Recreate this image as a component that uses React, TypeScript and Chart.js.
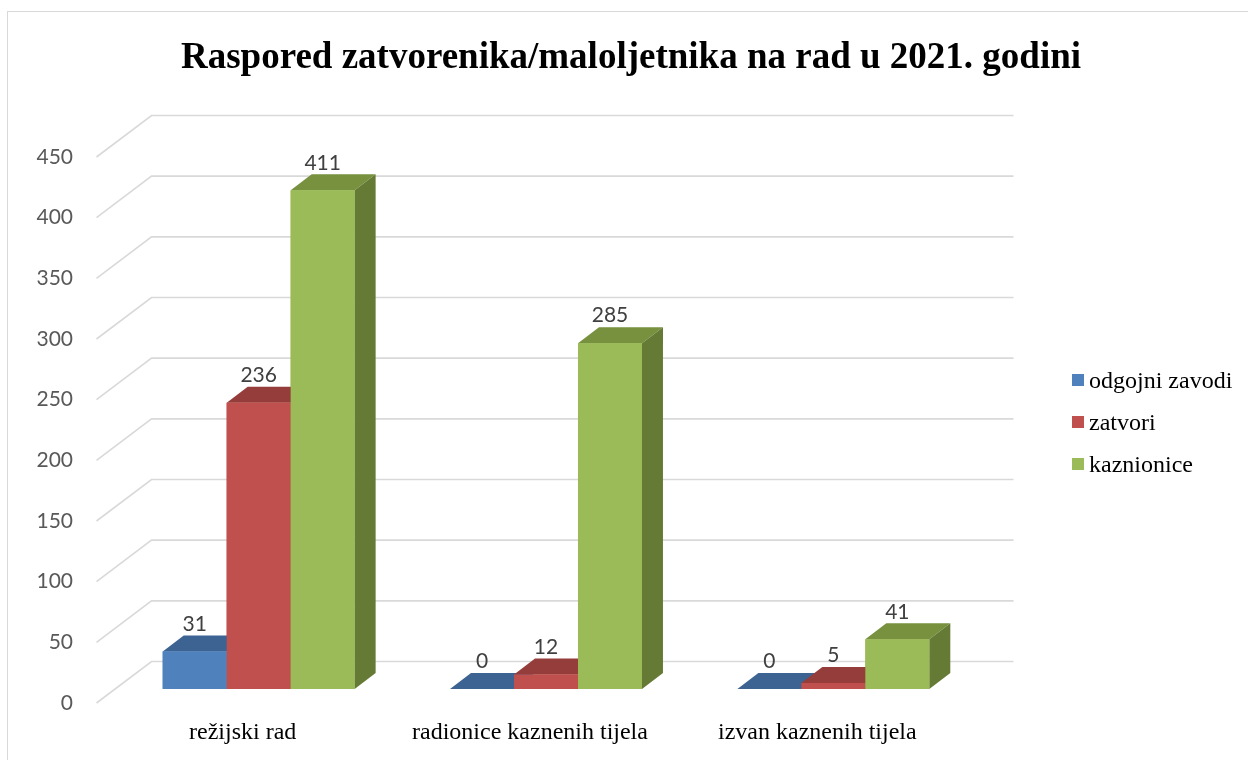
import React, { useEffect, useRef } from "react";
import { Chart, registerables } from "chart.js";

Chart.register(...registerables);

// ---- data ----
const chartTitle = "Raspored zatvorenika/maloljetnika na rad u 2021. godini";
const categories = ["režijski rad", "radionice kaznenih tijela", "izvan kaznenih tijela"];
const seriesNames = ["odgojni zavodi", "zatvori", "kaznionice"];
const odgojniZavodi = [31, 0, 0];
const zatvori = [236, 12, 5];
const kaznionice = [411, 285, 41];
const yTickValues = [0, 50, 100, 150, 200, 250, 300, 350, 400, 450];

// ---- styles ----
const frontColors = ["#4F81BD", "#C0504D", "#9BBB59"];
const topColors = ["#3C6391", "#953D3B", "#77913F"];
const sideColors = ["#365A84", "#873533", "#657B35"];
const gridColor = "#D9D9D9";
const SANS = "Lato, 'Open Sans', sans-serif";
const SERIF = "'Liberation Serif', 'Times New Roman', serif";

const BAR_DEPTH = { dx: 21, dy: 16 };
const WALL_BACK = { dx: 36.5, dy: 27.5 };
const WALL_FRONT = { dx: -18.5, dy: 14 };

const perspectivePlugin = {
  id: "perspective",
  beforeDatasetsDraw(chart: any) {
    const { ctx, chartArea: ca } = chart;
    const ys = chart.scales.y;
    ctx.save();
    ctx.strokeStyle = gridColor;
    ctx.lineWidth = 1.6;
    yTickValues.forEach((v) => {
      const y = ys.getPixelForValue(v);
      ctx.beginPath();
      ctx.moveTo(ca.left + WALL_FRONT.dx, y + WALL_FRONT.dy);
      ctx.lineTo(ca.left + WALL_BACK.dx, y - WALL_BACK.dy);
      ctx.lineTo(ca.right + WALL_BACK.dx, y - WALL_BACK.dy);
      ctx.stroke();
    });
    ctx.restore();
  },
  afterDatasetsDraw(chart: any) {
    const { ctx } = chart;
    const n = chart.data.labels.length;
    const dsCount = chart.data.datasets.length;
    ctx.save();
    for (let i = 0; i < n; i++) {
      for (let d = 0; d < dsCount; d++) {
        const el = chart.getDatasetMeta(d).data[i];
        const { x, y, base, width } = el.getProps(["x", "y", "base", "width"], true);
        const l = x - width / 2;
        const r = x + width / 2;
        const { dx, dy } = BAR_DEPTH;
        // top face
        ctx.fillStyle = topColors[d];
        ctx.beginPath();
        ctx.moveTo(l, y);
        ctx.lineTo(r, y);
        ctx.lineTo(r + dx, y - dy);
        ctx.lineTo(l + dx, y - dy);
        ctx.closePath();
        ctx.fill();
        // side face
        ctx.fillStyle = sideColors[d];
        ctx.beginPath();
        ctx.moveTo(r, y);
        ctx.lineTo(r + dx, y - dy);
        ctx.lineTo(r + dx, base - dy);
        ctx.lineTo(r, base);
        ctx.closePath();
        ctx.fill();
        // front face
        ctx.fillStyle = frontColors[d];
        ctx.fillRect(l, y, width, base - y);
      }
    }
    // data labels
    ctx.fillStyle = "#404040";
    ctx.font = `21px ${SANS}`;
    ctx.textAlign = "center";
    ctx.textBaseline = "bottom";
    for (let d = 0; d < dsCount; d++) {
      const meta = chart.getDatasetMeta(d);
      meta.data.forEach((el: any, i: number) => {
        const { x, y } = el.getProps(["x", "y"], true);
        ctx.fillText(String(chart.data.datasets[d].data[i]), x, y - BAR_DEPTH.dy - 1);
      });
    }
    ctx.restore();
  },
};

export default function App() {
  const canvasRef = useRef<HTMLCanvasElement | null>(null);

  useEffect(() => {
    if (!canvasRef.current) return;
    const chart = new Chart(canvasRef.current, {
      type: "bar",
      data: {
        labels: categories,
        datasets: [
          { label: seriesNames[0], data: odgojniZavodi, backgroundColor: frontColors[0] },
          { label: seriesNames[1], data: zatvori, backgroundColor: frontColors[1] },
          { label: seriesNames[2], data: kaznionice, backgroundColor: frontColors[2] },
        ],
      },
      options: {
        responsive: false,
        animation: false,
        devicePixelRatio: 1,
        datasets: { bar: { categoryPercentage: 0.668, barPercentage: 1, borderWidth: 0 } },
        layout: { padding: { left: 0, right: 271, top: 143, bottom: 0 } },
        plugins: {
          legend: { display: false },
          title: { display: false },
          tooltip: { enabled: false },
        },
        scales: {
          x: {
            type: "category",
            grid: { display: false },
            border: { display: false },
            ticks: {
              color: "#000000",
              font: { family: SERIF, size: 24 },
              padding: 21,
              labelOffset: -16,
              maxRotation: 0,
              autoSkip: false,
            },
            afterFit: (s: any) => {
              s.height = 71;
            },
          },
          y: {
            min: 0,
            max: 450,
            grid: { display: false },
            border: { display: false },
            ticks: {
              stepSize: 50,
              color: "#595959",
              font: { family: SANS, size: 21 },
              padding: 34,
              labelOffset: 14,
            },
            afterFit: (s: any) => {
              s.width = 115;
            },
          },
        },
      },
      plugins: [perspectivePlugin],
    });
    return () => chart.destroy();
  }, []);

  return (
    <div
      style={{
        position: "fixed",
        left: 0,
        top: 0,
        width: 1248,
        height: 760,
        overflow: "hidden",
        background: "#ffffff",
      }}
    >
      <div
        style={{
          position: "absolute",
          left: 7,
          top: 11,
          width: 1300,
          height: 800,
          border: `1px solid ${gridColor}`,
          boxSizing: "border-box",
        }}
      />
      <canvas
        ref={canvasRef}
        width={1248}
        height={760}
        style={{ position: "absolute", left: 0, top: 0, width: 1248, height: 760 }}
      />
      <div
        style={{
          position: "absolute",
          left: 0,
          top: 37,
          width: 1262,
          textAlign: "center",
          fontFamily: SERIF,
          fontWeight: "bold",
          fontSize: 37,
          lineHeight: "37px",
          color: "#000000",
          whiteSpace: "nowrap",
        }}
      >
        {chartTitle}
      </div>
      <div style={{ position: "absolute", left: 1072, top: 366 }}>
        {seriesNames.map((name, i) => (
          <div
            key={name}
            style={{
              display: "flex",
              alignItems: "center",
              height: 28,
              marginBottom: i < seriesNames.length - 1 ? 14 : 0,
              fontFamily: SERIF,
              fontSize: 24,
              color: "#000000",
              whiteSpace: "nowrap",
            }}
          >
            <span
              style={{
                display: "inline-block",
                width: 12,
                height: 12,
                background: frontColors[i],
                marginRight: 5,
              }}
            />
            <span>{name}</span>
          </div>
        ))}
      </div>
    </div>
  );
}
